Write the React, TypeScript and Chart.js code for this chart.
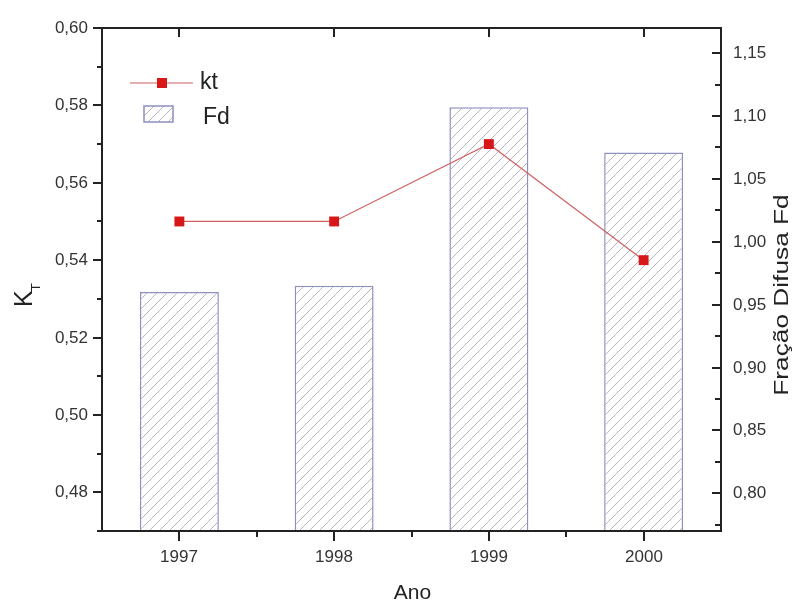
import React, { useEffect, useRef } from "react";
import { Chart, registerables } from "chart.js";

Chart.register(...registerables);

const years = ["1997", "1998", "1999", "2000"];
const ktValues = [0.55, 0.55, 0.57, 0.54];
const fdValues = [0.96, 0.965, 1.107, 1.071];
const ktMajorTicks = [0.48, 0.5, 0.52, 0.54, 0.56, 0.58, 0.6];
const ktMinorTicks = [0.47, 0.49, 0.51, 0.53, 0.55, 0.57, 0.59];
const fdMajorTicks = [0.8, 0.85, 0.9, 0.95, 1.0, 1.05, 1.1, 1.15];
const fdMinorTicks = [0.775, 0.825, 0.875, 0.925, 0.975, 1.025, 1.075, 1.125];
const xMinorTicks = [0.5, 1.5, 2.5];

const FONT = "'Liberation Sans', Arial, Helvetica, sans-serif";
const AXIS = "#222";
const TEXT = "#333";

function fmt(v: number) {
  return v.toFixed(2).replace(".", ",");
}

function makeHatch(ctx: CanvasRenderingContext2D) {
  const c = document.createElement("canvas");
  const s = 10;
  c.width = s;
  c.height = s;
  const p = c.getContext("2d")!;
  p.fillStyle = "#ffffff";
  p.fillRect(0, 0, s, s);
  p.strokeStyle = "rgba(120,120,135,0.6)";
  p.lineWidth = 0.9;
  p.beginPath();
  p.moveTo(0, s);
  p.lineTo(s, 0);
  p.moveTo(-s / 2, s / 2);
  p.lineTo(s / 2, -s / 2);
  p.moveTo(s / 2, s * 1.5);
  p.lineTo(s * 1.5, s / 2);
  p.stroke();
  return ctx.createPattern(c, "repeat")!;
}

const framePlugin = {
  id: "originFrame",
  afterDraw(chart: any) {
    const { ctx, chartArea: a, scales } = chart;
    const x = scales.x;
    const y = scales.y;
    const y1 = scales.y1;
    ctx.save();
    ctx.strokeStyle = AXIS;
    ctx.lineWidth = 2;
    ctx.strokeRect(a.left, a.top, a.right - a.left, a.bottom - a.top);

    ctx.fillStyle = TEXT;
    ctx.font = `17px ${FONT}`;
    ctx.lineWidth = 2;

    // left axis
    ctx.textAlign = "right";
    ctx.textBaseline = "middle";
    ktMajorTicks.forEach((v) => {
      const py = Math.round(y.getPixelForValue(v));
      ctx.beginPath();
      ctx.moveTo(a.left - 9, py);
      ctx.lineTo(a.left, py);
      ctx.stroke();
      ctx.fillText(fmt(v), a.left - 14, py);
    });
    ktMinorTicks.forEach((v) => {
      const py = Math.round(y.getPixelForValue(v));
      ctx.beginPath();
      ctx.moveTo(a.left - 5, py);
      ctx.lineTo(a.left, py);
      ctx.stroke();
    });

    // right axis (inward ticks)
    ctx.textAlign = "left";
    fdMajorTicks.forEach((v) => {
      const py = Math.round(y1.getPixelForValue(v));
      ctx.beginPath();
      ctx.moveTo(a.right - 9, py);
      ctx.lineTo(a.right, py);
      ctx.stroke();
      ctx.fillText(fmt(v), a.right + 12, py);
    });
    fdMinorTicks.forEach((v) => {
      const py = Math.round(y1.getPixelForValue(v));
      ctx.beginPath();
      ctx.moveTo(a.right - 6, py);
      ctx.lineTo(a.right, py);
      ctx.stroke();
    });

    // bottom / top axis
    ctx.textAlign = "center";
    ctx.textBaseline = "top";
    years.forEach((lab, i) => {
      const px = Math.round(x.getPixelForValue(i));
      ctx.beginPath();
      ctx.moveTo(px, a.bottom);
      ctx.lineTo(px, a.bottom + 10);
      ctx.moveTo(px, a.top);
      ctx.lineTo(px, a.top + 9);
      ctx.stroke();
      ctx.fillText(lab, px, a.bottom + 18);
    });
    xMinorTicks.forEach((v) => {
      const px = Math.round(x.getPixelForValue(v));
      ctx.beginPath();
      ctx.moveTo(px, a.bottom);
      ctx.lineTo(px, a.bottom + 6);
      ctx.stroke();
    });

    // axis titles
    ctx.fillStyle = "#222";
    ctx.font = `21px ${FONT}`;
    ctx.textBaseline = "middle";
    ctx.fillText("Ano", (a.left + a.right) / 2 + 1, a.bottom + 62);

    ctx.save();
    ctx.translate(a.right + 67, 295);
    ctx.rotate(-Math.PI / 2);
    ctx.scale(1.25, 1);
    ctx.textAlign = "center";
    ctx.textBaseline = "alphabetic";
    ctx.fillText("Fração Difusa Fd", 0, 0);
    ctx.restore();

    ctx.save();
    ctx.translate(32, 307);
    ctx.rotate(-Math.PI / 2);
    ctx.textAlign = "left";
    ctx.textBaseline = "alphabetic";
    ctx.font = `25px ${FONT}`;
    ctx.fillText("K", 0, 0);
    const kw = ctx.measureText("K").width;
    ctx.font = `13px ${FONT}`;
    ctx.fillText("T", kw - 1, 8);
    ctx.restore();

    // legend
    const lx = a.left + 28;
    const ly = a.top + 55;
    ctx.strokeStyle = "#d06060";
    ctx.lineWidth = 1.2;
    ctx.beginPath();
    ctx.moveTo(lx, ly);
    ctx.lineTo(lx + 63, ly);
    ctx.stroke();
    ctx.fillStyle = "#d81818";
    ctx.fillRect(lx + 27, ly - 5, 10, 10);
    ctx.fillStyle = "#222";
    ctx.font = `23px ${FONT}`;
    ctx.textAlign = "left";
    ctx.textBaseline = "middle";
    ctx.fillText("kt", lx + 70, ly);

    ctx.fillStyle = chart.$hatch;
    ctx.fillRect(lx + 14, ly + 23, 29, 16);
    ctx.strokeStyle = "#8f8fc0";
    ctx.lineWidth = 1.5;
    ctx.strokeRect(lx + 14, ly + 23, 29, 16);
    ctx.fillStyle = "#222";
    ctx.fillText("Fd", lx + 73, ly + 35);
    ctx.restore();
  },
};

export default function App() {
  const ref = useRef<HTMLCanvasElement | null>(null);

  useEffect(() => {
    const canvas = ref.current!;
    const ctx = canvas.getContext("2d")!;
    const hatch = makeHatch(ctx);
    const chart: any = new Chart(canvas, {
      type: "bar",
      data: {
        labels: years,
        datasets: [
          {
            type: "line",
            label: "kt",
            data: ktValues,
            yAxisID: "y",
            borderColor: "#d06060",
            borderWidth: 1.2,
            pointStyle: "rect",
            pointRadius: 7,
            pointBackgroundColor: "#d81818",
            pointBorderColor: "#d81818",
            pointBorderWidth: 0,
            order: 0,
          } as any,
          {
            type: "bar",
            label: "Fd",
            data: fdValues,
            yAxisID: "y1",
            backgroundColor: hatch,
            borderColor: "#8f8fc0",
            borderWidth: 1.5,
            borderSkipped: "bottom",
            categoryPercentage: 0.51,
            barPercentage: 1,
            order: 1,
          } as any,
        ],
      },
      options: {
        responsive: false,
        animation: false,
        layout: { padding: { top: 28, left: 0, right: 0, bottom: 0 } },
        plugins: { legend: { display: false }, tooltip: { enabled: false } },
        scales: {
          x: {
            type: "category",
            offset: true,
            grid: { display: false },
            border: { display: false },
            ticks: { display: false },
            afterFit: (s: any) => {
              s.height = 73;
            },
          },
          y: {
            position: "left",
            min: 0.47,
            max: 0.6,
            grid: { display: false },
            border: { display: false },
            ticks: { display: false },
            afterFit: (s: any) => {
              s.width = 102;
            },
          },
          y1: {
            position: "right",
            min: 0.77,
            max: 1.17,
            grid: { display: false },
            border: { display: false },
            ticks: { display: false },
            afterFit: (s: any) => {
              s.width = 75;
            },
          },
        },
      },
      plugins: [framePlugin],
    });
    chart.$hatch = hatch;
    chart.draw();
    return () => chart.destroy();
  }, []);

  return (
    <div style={{ position: "absolute", left: 0, top: 0, width: 796, height: 604, background: "#fff" }}>
      <canvas ref={ref} width={796} height={604} style={{ display: "block" }} />
    </div>
  );
}
